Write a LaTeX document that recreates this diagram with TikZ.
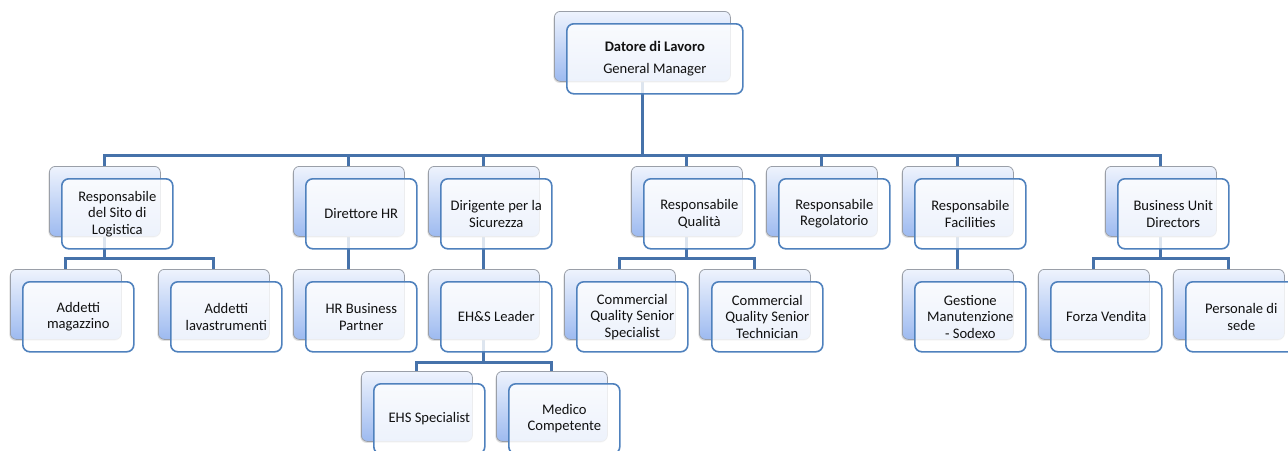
\documentclass[tikz,border=0pt]{standalone}
\usepackage{fontspec}
\setmainfont{Carlito}
\usetikzlibrary{shadows,backgrounds}
\definecolor{conncol}{HTML}{4672AA}
\definecolor{frontborder}{HTML}{4F81BD}
\definecolor{backborder}{HTML}{9A9FA8}
\definecolor{backtop}{HTML}{EEF3FD}
\definecolor{backbot}{HTML}{9DBAF0}
\definecolor{textcol}{HTML}{111111}
\tikzset{
  conn/.style={draw=conncol, line width=3pt},
  backbox/.style={draw=backborder, line width=0.8pt, rounded corners=6pt,
    top color=backtop, bottom color=backbot, minimum height=70pt,
    anchor=north west, inner sep=0pt,
    drop shadow={shadow xshift=-1pt, shadow yshift=-1.5pt, opacity=0.25}},
  frontbox/.style={draw=frontborder, line width=1.6pt, rounded corners=7pt,
    fill=white, fill opacity=0.82, text opacity=1, minimum height=70pt,
    anchor=north west, align=center, inner sep=0pt, text=textcol,
    font=\fontsize{14.6}{16.5}\selectfont},
}
\newcommand\orgbox[5][111]{%
  \node[backbox, minimum width=#1pt] (#2) at (#3-12,#4-12) {};
  \node[frontbox, minimum width=#1pt] (#2f) at (#3,#4) {#5};
}
\begin{document}
\begin{tikzpicture}[x=1pt,y=-1pt]
\useasboundingbox (0,0) rectangle (1288,450);
\clip (0,0) rectangle (1288,450);
% top
\orgbox[176]{top}{566}{23}{\textbf{Datore di Lavoro}\\[5pt]General Manager}
% level 1
\orgbox{la}{61}{178}{Responsabile\\del Sito di\\Logistica}
\orgbox{lb}{305}{178}{Direttore HR}
\orgbox{lc}{440}{178}{Dirigente per la\\Sicurezza}
\orgbox{ld}{643}{178}{Responsabile\\Qualità}
\orgbox{le}{778}{178}{Responsabile\\Regolatorio}
\orgbox{lf}{914}{178}{Responsabile\\Facilities}
\orgbox{lg}{1117}{178}{Business Unit\\Directors}
% level 2
\orgbox{ma}{22}{281}{Addetti\\magazzino}
\orgbox{mb}{170}{281}{Addetti\\lavastrumenti}
\orgbox{mc}{305}{281}{HR Business\\Partner}
\orgbox{md}{440}{281}{EH\&S Leader}
\orgbox{me}{576}{281}{Commercial\\Quality Senior\\Specialist}
\orgbox{mf}{711}{281}{Commercial\\Quality Senior\\Technician}
\orgbox{mg}{914}{281}{Gestione\\Manutenzione\\- Sodexo}
\orgbox{mh}{1050}{281}{Forza Vendita}
\orgbox{mi}{1185}{281}{Personale di\\sede}
% level 3
\orgbox{na}{373}{383}{EHS Specialist}
\orgbox{nb}{508}{383}{Medico\\Competente}
% connectors
\coordinate (b0) at (0,155);
\coordinate (b1) at (0,258);
\coordinate (b2) at (0,362);
\begin{scope}[on background layer]
\foreach \c in {la,lb,lc,ld,le,lf,lg}
  \draw[conn] (top.center) -- (top.center |- b0) -| (\c.center);
\draw[conn] (la.center) -- (la.center |- b1) -| (ma.center);
\draw[conn] (la.center) -- (la.center |- b1) -| (mb.center);
\draw[conn] (lb.center) -- (mc.center);
\draw[conn] (lc.center) -- (md.center);
\draw[conn] (ld.center) -- (ld.center |- b1) -| (me.center);
\draw[conn] (ld.center) -- (ld.center |- b1) -| (mf.center);
\draw[conn] (lf.center) -- (mg.center);
\draw[conn] (lg.center) -- (lg.center |- b1) -| (mh.center);
\draw[conn] (lg.center) -- (lg.center |- b1) -| (mi.center);
\draw[conn] (md.center) -- (md.center |- b2) -| (na.center);
\draw[conn] (md.center) -- (md.center |- b2) -| (nb.center);
\end{scope}
\end{tikzpicture}
\end{document}
